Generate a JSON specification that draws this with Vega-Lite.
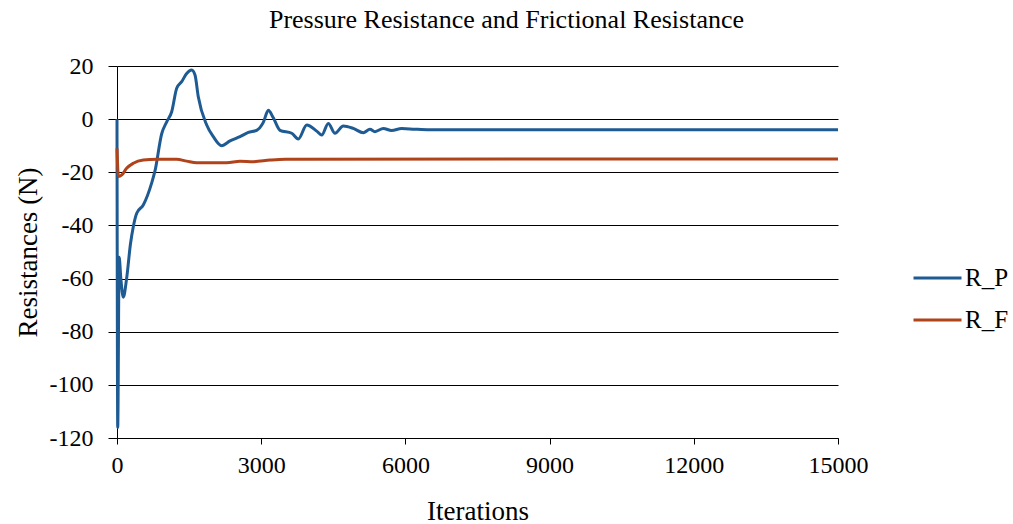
{
  "$schema": "https://vega.github.io/schema/vega-lite/v6.json",
  "width": 721,
  "height": 372,
  "autosize": "none",
  "padding": {"left": 117, "top": 66, "right": 175, "bottom": 86},
  "background": "white",
  "title": {
    "text": "Pressure Resistance and Frictional Resistance",
    "font": "Liberation Serif",
    "fontSize": 26,
    "fontWeight": "normal",
    "color": "black",
    "anchor": "middle",
    "dx": 29,
    "offset": 21
  },
  "config": {
    "view": {"stroke": null},
    "font": "Liberation Serif"
  },
  "data": {
    "values": [
      {"it": 0, "v": 0, "s": "R_P"},
      {"it": 15, "v": -116, "s": "R_P"},
      {"it": 45, "v": -52, "s": "R_P"},
      {"it": 80, "v": -60, "s": "R_P"},
      {"it": 131, "v": -67, "s": "R_P"},
      {"it": 200, "v": -60, "s": "R_P"},
      {"it": 280, "v": -47, "s": "R_P"},
      {"it": 339, "v": -40.5, "s": "R_P"},
      {"it": 410, "v": -35.4, "s": "R_P"},
      {"it": 547, "v": -32.3, "s": "R_P"},
      {"it": 722, "v": -24, "s": "R_P"},
      {"it": 790, "v": -19.5, "s": "R_P"},
      {"it": 930, "v": -5.5, "s": "R_P"},
      {"it": 1034, "v": -1, "s": "R_P"},
      {"it": 1138, "v": 2.8, "s": "R_P"},
      {"it": 1242, "v": 11.6, "s": "R_P"},
      {"it": 1346, "v": 14.1, "s": "R_P"},
      {"it": 1450, "v": 17.2, "s": "R_P"},
      {"it": 1554, "v": 18.5, "s": "R_P"},
      {"it": 1623, "v": 16.6, "s": "R_P"},
      {"it": 1691, "v": 8.4, "s": "R_P"},
      {"it": 1866, "v": -2.2, "s": "R_P"},
      {"it": 2004, "v": -6.6, "s": "R_P"},
      {"it": 2178, "v": -10, "s": "R_P"},
      {"it": 2351, "v": -8.2, "s": "R_P"},
      {"it": 2559, "v": -6.6, "s": "R_P"},
      {"it": 2732, "v": -5, "s": "R_P"},
      {"it": 2906, "v": -4.2, "s": "R_P"},
      {"it": 3044, "v": -1.2, "s": "R_P"},
      {"it": 3148, "v": 3.3, "s": "R_P"},
      {"it": 3252, "v": 0.5, "s": "R_P"},
      {"it": 3391, "v": -4.2, "s": "R_P"},
      {"it": 3635, "v": -5.3, "s": "R_P"},
      {"it": 3772, "v": -7.5, "s": "R_P"},
      {"it": 3947, "v": -2.2, "s": "R_P"},
      {"it": 4155, "v": -4.5, "s": "R_P"},
      {"it": 4259, "v": -6, "s": "R_P"},
      {"it": 4396, "v": -1.6, "s": "R_P"},
      {"it": 4535, "v": -5.3, "s": "R_P"},
      {"it": 4708, "v": -2.6, "s": "R_P"},
      {"it": 4916, "v": -3.5, "s": "R_P"},
      {"it": 5124, "v": -5.1, "s": "R_P"},
      {"it": 5263, "v": -3.8, "s": "R_P"},
      {"it": 5367, "v": -4.7, "s": "R_P"},
      {"it": 5540, "v": -3.5, "s": "R_P"},
      {"it": 5714, "v": -4.3, "s": "R_P"},
      {"it": 5922, "v": -3.5, "s": "R_P"},
      {"it": 6200, "v": -3.8, "s": "R_P"},
      {"it": 6500, "v": -4, "s": "R_P"},
      {"it": 15000, "v": -4, "s": "R_P"},
      {"it": 0, "v": -11, "s": "R_F"},
      {"it": 30, "v": -21.6, "s": "R_F"},
      {"it": 100, "v": -21, "s": "R_F"},
      {"it": 200, "v": -18.5, "s": "R_F"},
      {"it": 339, "v": -16.6, "s": "R_F"},
      {"it": 547, "v": -15.4, "s": "R_F"},
      {"it": 826, "v": -15.1, "s": "R_F"},
      {"it": 1242, "v": -15.1, "s": "R_F"},
      {"it": 1450, "v": -15.8, "s": "R_F"},
      {"it": 1658, "v": -16.4, "s": "R_F"},
      {"it": 2282, "v": -16.4, "s": "R_F"},
      {"it": 2559, "v": -15.8, "s": "R_F"},
      {"it": 2836, "v": -16, "s": "R_F"},
      {"it": 3183, "v": -15.4, "s": "R_F"},
      {"it": 3500, "v": -15.1, "s": "R_F"},
      {"it": 15000, "v": -15, "s": "R_F"}
    ]
  },
  "mark": {"type": "line", "strokeWidth": 3, "interpolate": "monotone"},
  "encoding": {
    "x": {
      "field": "it",
      "type": "quantitative",
      "scale": {"domain": [0, 15000], "nice": false},
      "axis": {
        "title": "Iterations",
        "values": [0, 3000, 6000, 9000, 12000, 15000],
        "format": "d",
        "grid": false,
        "labelFlush": false,
        "domainColor": "black",
        "tickColor": "black",
        "tickSize": 6,
        "labelFont": "Liberation Serif",
        "labelFontSize": 24,
        "labelColor": "black",
        "labelPadding": 9,
        "titleFont": "Liberation Serif",
        "titleFontSize": 27,
        "titleFontWeight": "normal",
        "titleColor": "black",
        "titlePadding": 21
      }
    },
    "y": {
      "field": "v",
      "type": "quantitative",
      "scale": {"domain": [-120, 20], "nice": false},
      "axis": {
        "title": "Resistances (N)",
        "values": [-120, -100, -80, -60, -40, -20, 0, 20],
        "labelExpr": "datum.value + ''",
        "grid": true,
        "gridColor": "black",
        "gridOpacity": 1,
        "domainColor": "black",
        "tickColor": "black",
        "tickSize": 9,
        "labelFont": "Liberation Serif",
        "labelFontSize": 24,
        "labelColor": "black",
        "labelPadding": 15,
        "titleFont": "Liberation Serif",
        "titleFontSize": 27,
        "titleFontWeight": "normal",
        "titleColor": "black",
        "titlePadding": 7
      }
    },
    "color": {
      "field": "s",
      "type": "nominal",
      "scale": {"domain": ["R_P", "R_F"], "range": ["#1f5b93", "#b0431a"]},
      "legend": {
        "title": null,
        "orient": "none",
        "legendX": 795,
        "legendY": 200,
        "symbolType": "stroke",
        "symbolSize": 2304,
        "symbolStrokeWidth": 3,
        "clipHeight": 24,
        "rowPadding": 17,
        "labelFont": "Liberation Serif",
        "labelFontSize": 25,
        "labelColor": "black",
        "labelOffset": 2
      }
    }
  }
}
